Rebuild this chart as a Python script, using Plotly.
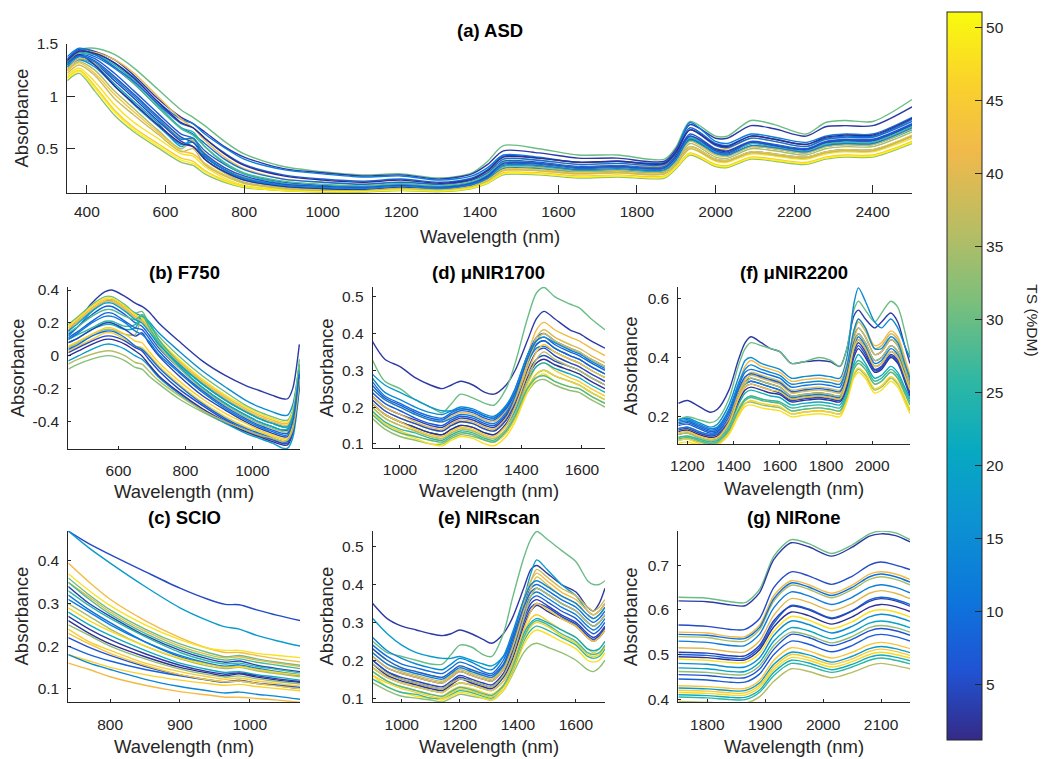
import plotly.graph_objects as go
from plotly.colors import sample_colorscale

# ======================= DATA =======================
TS_RANGE = [1.2, 51.1]
TS_TICKS = [5, 10, 15, 20, 25, 30, 35, 40, 45, 50]

# ---- (a) ASD ----
ASD_WL = [350, 380, 420, 470, 520, 580, 640, 670, 700, 750, 800, 900, 1000, 1100, 1200, 1300, 1380,
          1420, 1460, 1550, 1650, 1750, 1870, 1900, 1935, 2000, 2030, 2090, 2150, 2230, 2280, 2330, 2400, 2500]
ASD_TS = [30, 3, 12, 42, 7, 20, 35, 4, 45, 33, 48, 10, 25, 15, 40, 2, 28, 9, 44, 6, 38, 13, 50, 1.5]
ASD_ABS = [
    [1.32, 1.44, 1.46, 1.40, 1.27, 1.07, 0.87, 0.80, 0.72, 0.57, 0.45, 0.33, 0.28, 0.25, 0.26, 0.22, 0.27, 0.38, 0.53, 0.50, 0.44, 0.44, 0.40, 0.52, 0.76, 0.62, 0.62, 0.77, 0.73, 0.64, 0.75, 0.77, 0.76, 0.97],
    [1.35, 1.45, 1.43, 1.35, 1.20, 0.98, 0.80, 0.74, 0.66, 0.52, 0.42, 0.31, 0.27, 0.24, 0.25, 0.21, 0.26, 0.35, 0.48, 0.46, 0.41, 0.41, 0.38, 0.50, 0.73, 0.60, 0.60, 0.72, 0.69, 0.62, 0.71, 0.72, 0.72, 0.90],
    [1.38, 1.46, 1.42, 1.32, 1.18, 0.95, 0.78, 0.74, 0.64, 0.51, 0.40, 0.30, 0.26, 0.23, 0.24, 0.20, 0.24, 0.32, 0.44, 0.42, 0.37, 0.38, 0.36, 0.48, 0.75, 0.57, 0.55, 0.64, 0.61, 0.56, 0.62, 0.64, 0.64, 0.80],
    [1.30, 1.42, 1.42, 1.35, 1.22, 1.00, 0.78, 0.70, 0.58, 0.42, 0.31, 0.21, 0.18, 0.16, 0.18, 0.16, 0.20, 0.28, 0.40, 0.39, 0.35, 0.36, 0.34, 0.45, 0.62, 0.50, 0.50, 0.60, 0.57, 0.52, 0.59, 0.61, 0.61, 0.78],
    [1.32, 1.40, 1.36, 1.22, 1.05, 0.84, 0.64, 0.60, 0.48, 0.35, 0.26, 0.18, 0.15, 0.14, 0.16, 0.14, 0.18, 0.25, 0.38, 0.37, 0.33, 0.34, 0.33, 0.44, 0.64, 0.50, 0.48, 0.57, 0.54, 0.50, 0.57, 0.59, 0.59, 0.74],
    [1.28, 1.36, 1.30, 1.12, 0.95, 0.75, 0.52, 0.60, 0.44, 0.30, 0.21, 0.15, 0.13, 0.12, 0.14, 0.12, 0.16, 0.22, 0.33, 0.33, 0.29, 0.30, 0.29, 0.39, 0.58, 0.45, 0.43, 0.52, 0.50, 0.46, 0.52, 0.54, 0.54, 0.68],
    [1.25, 1.33, 1.25, 1.05, 0.88, 0.68, 0.50, 0.58, 0.40, 0.27, 0.18, 0.13, 0.11, 0.11, 0.13, 0.11, 0.15, 0.21, 0.32, 0.32, 0.28, 0.29, 0.28, 0.37, 0.55, 0.42, 0.41, 0.50, 0.48, 0.44, 0.50, 0.52, 0.52, 0.66],
    [1.30, 1.38, 1.32, 1.15, 0.98, 0.77, 0.57, 0.52, 0.42, 0.30, 0.22, 0.15, 0.13, 0.12, 0.14, 0.12, 0.16, 0.23, 0.35, 0.35, 0.31, 0.32, 0.31, 0.41, 0.60, 0.47, 0.45, 0.55, 0.52, 0.48, 0.55, 0.57, 0.57, 0.72],
    [1.18, 1.25, 1.10, 0.87, 0.70, 0.55, 0.41, 0.38, 0.29, 0.20, 0.14, 0.10, 0.09, 0.09, 0.11, 0.10, 0.13, 0.18, 0.27, 0.27, 0.24, 0.25, 0.24, 0.33, 0.46, 0.35, 0.34, 0.42, 0.40, 0.37, 0.42, 0.44, 0.44, 0.57],
    [1.15, 1.22, 1.05, 0.82, 0.66, 0.51, 0.37, 0.34, 0.26, 0.18, 0.13, 0.10, 0.085, 0.085, 0.10, 0.09, 0.12, 0.17, 0.25, 0.25, 0.22, 0.23, 0.22, 0.31, 0.44, 0.33, 0.32, 0.40, 0.38, 0.35, 0.40, 0.42, 0.42, 0.55],
    [1.20, 1.27, 1.14, 0.92, 0.75, 0.60, 0.45, 0.43, 0.33, 0.22, 0.15, 0.11, 0.10, 0.10, 0.12, 0.10, 0.14, 0.20, 0.29, 0.29, 0.26, 0.27, 0.26, 0.35, 0.50, 0.38, 0.37, 0.45, 0.43, 0.40, 0.45, 0.47, 0.47, 0.60],
    [1.34, 1.42, 1.38, 1.27, 1.12, 0.90, 0.70, 0.64, 0.55, 0.40, 0.30, 0.21, 0.18, 0.16, 0.18, 0.16, 0.20, 0.27, 0.40, 0.39, 0.35, 0.36, 0.35, 0.46, 0.68, 0.53, 0.51, 0.60, 0.57, 0.52, 0.59, 0.61, 0.61, 0.76],
    [1.30, 1.40, 1.40, 1.30, 1.15, 0.92, 0.70, 0.66, 0.52, 0.36, 0.26, 0.17, 0.14, 0.13, 0.15, 0.13, 0.17, 0.24, 0.36, 0.36, 0.32, 0.33, 0.32, 0.42, 0.60, 0.47, 0.46, 0.55, 0.53, 0.49, 0.55, 0.57, 0.57, 0.72],
    [1.28, 1.35, 1.28, 1.10, 0.92, 0.72, 0.54, 0.56, 0.40, 0.28, 0.20, 0.14, 0.12, 0.11, 0.13, 0.11, 0.15, 0.21, 0.31, 0.31, 0.27, 0.28, 0.27, 0.36, 0.52, 0.40, 0.39, 0.47, 0.45, 0.42, 0.47, 0.49, 0.49, 0.62],
    [1.26, 1.36, 1.32, 1.18, 1.02, 0.80, 0.60, 0.58, 0.46, 0.32, 0.23, 0.16, 0.13, 0.12, 0.14, 0.12, 0.16, 0.22, 0.34, 0.34, 0.30, 0.31, 0.30, 0.40, 0.57, 0.44, 0.43, 0.52, 0.50, 0.46, 0.52, 0.54, 0.54, 0.69],
    [1.33, 1.40, 1.30, 1.10, 0.93, 0.73, 0.55, 0.52, 0.40, 0.28, 0.20, 0.14, 0.12, 0.11, 0.13, 0.12, 0.16, 0.23, 0.37, 0.36, 0.32, 0.33, 0.32, 0.43, 0.62, 0.49, 0.47, 0.56, 0.53, 0.49, 0.56, 0.58, 0.58, 0.73],
    [1.33, 1.42, 1.40, 1.28, 1.12, 0.90, 0.69, 0.63, 0.52, 0.37, 0.27, 0.19, 0.16, 0.145, 0.165, 0.145, 0.185, 0.255, 0.37, 0.36, 0.32, 0.33, 0.32, 0.42, 0.61, 0.48, 0.46, 0.55, 0.52, 0.48, 0.54, 0.56, 0.56, 0.71],
    [1.36, 1.44, 1.40, 1.28, 1.14, 0.93, 0.74, 0.70, 0.60, 0.46, 0.35, 0.25, 0.21, 0.19, 0.21, 0.18, 0.22, 0.30, 0.43, 0.41, 0.37, 0.38, 0.37, 0.48, 0.70, 0.55, 0.53, 0.62, 0.59, 0.54, 0.60, 0.62, 0.62, 0.78],
    [1.24, 1.32, 1.22, 1.02, 0.85, 0.66, 0.48, 0.45, 0.36, 0.25, 0.17, 0.12, 0.10, 0.10, 0.12, 0.11, 0.14, 0.20, 0.30, 0.30, 0.27, 0.28, 0.27, 0.36, 0.52, 0.40, 0.39, 0.47, 0.45, 0.42, 0.47, 0.49, 0.49, 0.63],
    [1.31, 1.39, 1.34, 1.19, 1.02, 0.81, 0.61, 0.56, 0.45, 0.32, 0.24, 0.16, 0.14, 0.13, 0.15, 0.13, 0.17, 0.24, 0.36, 0.36, 0.32, 0.33, 0.32, 0.42, 0.62, 0.48, 0.46, 0.56, 0.53, 0.49, 0.56, 0.58, 0.58, 0.73],
    [1.22, 1.30, 1.20, 0.98, 0.82, 0.64, 0.47, 0.50, 0.35, 0.24, 0.17, 0.12, 0.10, 0.10, 0.12, 0.11, 0.14, 0.19, 0.29, 0.29, 0.26, 0.27, 0.26, 0.35, 0.50, 0.39, 0.38, 0.46, 0.44, 0.41, 0.46, 0.48, 0.48, 0.62],
    [1.30, 1.38, 1.33, 1.17, 1.00, 0.79, 0.59, 0.60, 0.43, 0.30, 0.22, 0.15, 0.13, 0.12, 0.14, 0.12, 0.16, 0.22, 0.34, 0.34, 0.30, 0.31, 0.30, 0.40, 0.59, 0.46, 0.44, 0.53, 0.51, 0.47, 0.53, 0.55, 0.55, 0.70],
    [1.17, 1.24, 1.08, 0.85, 0.68, 0.53, 0.39, 0.36, 0.28, 0.19, 0.135, 0.10, 0.09, 0.09, 0.105, 0.095, 0.125, 0.175, 0.26, 0.26, 0.23, 0.24, 0.23, 0.32, 0.45, 0.34, 0.33, 0.41, 0.39, 0.36, 0.41, 0.43, 0.43, 0.56],
    [1.34, 1.43, 1.41, 1.32, 1.17, 0.95, 0.75, 0.70, 0.60, 0.45, 0.34, 0.24, 0.20, 0.18, 0.20, 0.17, 0.21, 0.29, 0.42, 0.41, 0.37, 0.38, 0.36, 0.47, 0.68, 0.54, 0.52, 0.62, 0.59, 0.54, 0.61, 0.63, 0.63, 0.79],
]

# ---- (b) F750 ----
F750_WL = [450, 480, 520, 560, 580, 620, 650, 670, 690, 720, 780, 850, 920, 980, 1020, 1060, 1090, 1105, 1120, 1140]
F750_TS = [3, 15, 30, 42, 7, 35, 22, 4, 45, 32, 18, 10, 48, 2, 26, 40, 12, 28, 46, 5, 36, 20, 8]
F750_ABS = [
    [0.15, 0.22, 0.32, 0.39, 0.40, 0.36, 0.32, 0.30, 0.27, 0.20, 0.09, -0.03, -0.12, -0.18, -0.21, -0.24, -0.26, -0.26, -0.20, 0.07],
    [0.12, 0.18, 0.27, 0.33, 0.34, 0.30, 0.26, 0.24, 0.21, 0.14, 0.03, -0.09, -0.19, -0.27, -0.31, -0.34, -0.36, -0.36, -0.30, -0.05],
    [0.19, 0.24, 0.31, 0.36, 0.36, 0.31, 0.26, 0.27, 0.20, 0.12, 0.00, -0.12, -0.22, -0.30, -0.34, -0.37, -0.39, -0.39, -0.33, -0.02],
    [0.17, 0.22, 0.29, 0.34, 0.34, 0.29, 0.24, 0.22, 0.17, 0.09, -0.03, -0.15, -0.25, -0.32, -0.36, -0.39, -0.41, -0.41, -0.35, -0.08],
    [0.13, 0.18, 0.25, 0.30, 0.30, 0.25, 0.20, 0.18, 0.13, 0.05, -0.07, -0.19, -0.29, -0.36, -0.40, -0.43, -0.45, -0.45, -0.38, -0.10],
    [0.05, 0.08, 0.13, 0.16, 0.16, 0.13, 0.13, 0.23, 0.18, 0.06, -0.07, -0.20, -0.30, -0.37, -0.41, -0.44, -0.46, -0.46, -0.40, -0.12],
    [0.08, 0.11, 0.16, 0.19, 0.19, 0.16, 0.17, 0.24, 0.20, 0.08, -0.06, -0.19, -0.29, -0.36, -0.40, -0.43, -0.45, -0.44, -0.37, -0.08],
    [0.08, 0.11, 0.16, 0.20, 0.20, 0.16, 0.12, 0.14, 0.08, 0.00, -0.12, -0.24, -0.33, -0.40, -0.44, -0.47, -0.49, -0.49, -0.42, -0.15],
    [0.03, 0.06, 0.10, 0.14, 0.14, 0.10, 0.06, 0.05, 0.01, -0.06, -0.17, -0.28, -0.37, -0.43, -0.46, -0.49, -0.51, -0.51, -0.45, -0.15],
    [-0.08, -0.05, -0.02, 0.00, 0.00, -0.03, -0.07, -0.08, -0.12, -0.17, -0.26, -0.34, -0.41, -0.46, -0.49, -0.51, -0.53, -0.52, -0.46, -0.17],
    [-0.03, 0.00, 0.04, 0.07, 0.07, 0.04, 0.00, -0.02, -0.06, -0.13, -0.23, -0.33, -0.41, -0.47, -0.50, -0.53, -0.56, -0.56, -0.50, -0.20],
    [0.04, 0.07, 0.12, 0.15, 0.15, 0.11, 0.06, 0.04, 0.00, -0.07, -0.18, -0.29, -0.38, -0.44, -0.47, -0.50, -0.52, -0.52, -0.45, -0.12],
    [0.18, 0.23, 0.30, 0.35, 0.35, 0.30, 0.25, 0.23, 0.18, 0.10, -0.02, -0.14, -0.24, -0.31, -0.35, -0.38, -0.40, -0.40, -0.34, -0.06],
    [0.00, 0.03, 0.07, 0.10, 0.10, 0.07, 0.03, 0.00, -0.05, -0.12, -0.22, -0.32, -0.40, -0.46, -0.49, -0.52, -0.54, -0.54, -0.47, -0.18],
    [0.10, 0.13, 0.17, 0.21, 0.21, 0.18, 0.19, 0.25, 0.21, 0.10, -0.04, -0.17, -0.27, -0.34, -0.38, -0.41, -0.43, -0.43, -0.36, -0.06],
    [0.16, 0.21, 0.28, 0.33, 0.33, 0.28, 0.23, 0.21, 0.16, 0.08, -0.04, -0.16, -0.26, -0.33, -0.37, -0.40, -0.42, -0.42, -0.36, -0.09],
    [0.10, 0.14, 0.20, 0.24, 0.24, 0.20, 0.15, 0.13, 0.09, 0.01, -0.10, -0.22, -0.32, -0.39, -0.43, -0.46, -0.48, -0.48, -0.41, -0.13],
    [0.14, 0.18, 0.24, 0.28, 0.28, 0.24, 0.22, 0.25, 0.18, 0.08, -0.05, -0.17, -0.27, -0.34, -0.38, -0.41, -0.43, -0.43, -0.37, -0.10],
    [0.06, 0.09, 0.13, 0.17, 0.17, 0.13, 0.09, 0.08, 0.03, -0.04, -0.15, -0.26, -0.35, -0.41, -0.45, -0.48, -0.50, -0.50, -0.43, -0.14],
    [0.02, 0.05, 0.09, 0.12, 0.12, 0.09, 0.05, 0.03, -0.02, -0.09, -0.20, -0.30, -0.39, -0.45, -0.48, -0.51, -0.53, -0.53, -0.46, -0.16],
    [-0.05, -0.02, 0.01, 0.03, 0.03, 0.00, -0.04, -0.05, -0.09, -0.15, -0.24, -0.33, -0.40, -0.45, -0.48, -0.50, -0.52, -0.51, -0.45, -0.16],
    [0.15, 0.20, 0.27, 0.32, 0.32, 0.27, 0.22, 0.20, 0.15, 0.07, -0.05, -0.17, -0.27, -0.34, -0.38, -0.41, -0.43, -0.43, -0.37, -0.09],
    [0.11, 0.15, 0.21, 0.26, 0.26, 0.21, 0.17, 0.16, 0.11, 0.03, -0.09, -0.21, -0.31, -0.38, -0.42, -0.45, -0.47, -0.47, -0.40, -0.11],
]

# ---- (c) SCIO ----
SCIO_WL = [740, 770, 800, 850, 900, 940, 965, 985, 1010, 1040, 1072]
SCIO_TS = [5, 18, 42, 48, 30, 4, 10, 35, 22, 2, 45, 8, 46, 14, 42, 26, 40, 12, 47, 3, 33, 6, 44, 28]
SCIO_ABS = [
    [0.47, 0.44, 0.415, 0.375, 0.336, 0.31, 0.298, 0.297, 0.285, 0.272, 0.26],
    [0.47, 0.43, 0.395, 0.34, 0.29, 0.26, 0.245, 0.24, 0.225, 0.212, 0.20],
    [0.395, 0.35, 0.31, 0.26, 0.22, 0.195, 0.185, 0.185, 0.178, 0.17, 0.163],
    [0.37, 0.33, 0.295, 0.25, 0.215, 0.195, 0.19, 0.19, 0.183, 0.178, 0.173],
    [0.36, 0.32, 0.285, 0.24, 0.205, 0.185, 0.175, 0.178, 0.17, 0.162, 0.155],
    [0.34, 0.30, 0.27, 0.225, 0.19, 0.17, 0.162, 0.165, 0.155, 0.147, 0.14],
    [0.32, 0.285, 0.255, 0.21, 0.175, 0.158, 0.15, 0.153, 0.145, 0.138, 0.13],
    [0.30, 0.27, 0.24, 0.20, 0.17, 0.153, 0.147, 0.15, 0.142, 0.135, 0.128],
    [0.28, 0.25, 0.225, 0.19, 0.16, 0.145, 0.138, 0.14, 0.133, 0.127, 0.12],
    [0.26, 0.23, 0.205, 0.175, 0.15, 0.137, 0.13, 0.135, 0.127, 0.12, 0.115],
    [0.24, 0.21, 0.19, 0.16, 0.14, 0.128, 0.122, 0.125, 0.118, 0.112, 0.106],
    [0.20, 0.18, 0.165, 0.145, 0.13, 0.12, 0.115, 0.118, 0.112, 0.107, 0.10],
    [0.18, 0.165, 0.15, 0.133, 0.12, 0.112, 0.108, 0.11, 0.105, 0.10, 0.095],
    [0.18, 0.16, 0.145, 0.122, 0.105, 0.095, 0.09, 0.092, 0.087, 0.082, 0.075],
    [0.16, 0.145, 0.128, 0.108, 0.093, 0.085, 0.08, 0.08, 0.077, 0.073, 0.068],
    [0.33, 0.295, 0.265, 0.222, 0.185, 0.165, 0.158, 0.16, 0.152, 0.145, 0.137],
    [0.35, 0.315, 0.28, 0.235, 0.20, 0.18, 0.172, 0.175, 0.167, 0.16, 0.152],
    [0.31, 0.28, 0.25, 0.21, 0.178, 0.16, 0.153, 0.156, 0.148, 0.14, 0.133],
    [0.29, 0.26, 0.235, 0.20, 0.172, 0.157, 0.15, 0.152, 0.145, 0.138, 0.132],
    [0.27, 0.24, 0.215, 0.182, 0.155, 0.14, 0.134, 0.137, 0.13, 0.123, 0.117],
    [0.25, 0.225, 0.20, 0.17, 0.146, 0.133, 0.127, 0.13, 0.123, 0.117, 0.111],
    [0.22, 0.197, 0.178, 0.152, 0.132, 0.121, 0.116, 0.12, 0.113, 0.108, 0.103],
    [0.23, 0.205, 0.183, 0.155, 0.133, 0.121, 0.116, 0.118, 0.112, 0.106, 0.10],
    [0.35, 0.31, 0.275, 0.23, 0.195, 0.175, 0.167, 0.17, 0.162, 0.155, 0.147],
]

# ---- (d) uNIR1700 ----
U17_WL = [908, 950, 1000, 1050, 1100, 1140, 1170, 1200, 1240, 1280, 1310, 1350, 1380, 1420, 1450, 1475, 1510, 1560, 1590, 1630, 1676]
U17_TS = [3, 30, 18, 42, 7, 45, 33, 4, 10, 48, 22, 38, 12, 2, 26, 40, 8, 46, 5, 36, 14, 28, 44]
U17_ABS = [
    [0.38, 0.33, 0.31, 0.28, 0.26, 0.25, 0.26, 0.27, 0.26, 0.24, 0.235, 0.26, 0.30, 0.38, 0.44, 0.46, 0.44, 0.41, 0.40, 0.38, 0.36],
    [0.33, 0.27, 0.25, 0.22, 0.20, 0.185, 0.21, 0.235, 0.225, 0.21, 0.205, 0.25, 0.32, 0.44, 0.51, 0.525, 0.50, 0.48, 0.47, 0.44, 0.41],
    [0.29, 0.26, 0.24, 0.22, 0.20, 0.19, 0.19, 0.195, 0.19, 0.175, 0.17, 0.20, 0.24, 0.32, 0.37, 0.38, 0.36, 0.34, 0.33, 0.31, 0.29],
    [0.25, 0.22, 0.20, 0.18, 0.165, 0.16, 0.175, 0.185, 0.18, 0.165, 0.16, 0.19, 0.24, 0.34, 0.41, 0.43, 0.41, 0.39, 0.38, 0.36, 0.34],
    [0.24, 0.21, 0.19, 0.17, 0.155, 0.15, 0.165, 0.175, 0.17, 0.155, 0.15, 0.18, 0.23, 0.32, 0.37, 0.38, 0.36, 0.34, 0.33, 0.31, 0.29],
    [0.20, 0.17, 0.15, 0.135, 0.12, 0.115, 0.13, 0.14, 0.135, 0.12, 0.115, 0.14, 0.18, 0.26, 0.31, 0.32, 0.30, 0.28, 0.27, 0.25, 0.23],
    [0.17, 0.14, 0.12, 0.11, 0.10, 0.10, 0.115, 0.125, 0.12, 0.11, 0.105, 0.13, 0.17, 0.24, 0.27, 0.275, 0.26, 0.245, 0.24, 0.22, 0.20],
    [0.23, 0.20, 0.18, 0.165, 0.15, 0.145, 0.16, 0.17, 0.165, 0.15, 0.145, 0.175, 0.22, 0.30, 0.35, 0.36, 0.34, 0.32, 0.31, 0.29, 0.27],
    [0.27, 0.23, 0.21, 0.19, 0.175, 0.17, 0.185, 0.195, 0.19, 0.175, 0.17, 0.20, 0.25, 0.34, 0.39, 0.40, 0.38, 0.36, 0.35, 0.33, 0.31],
    [0.19, 0.15, 0.13, 0.115, 0.10, 0.095, 0.11, 0.12, 0.115, 0.10, 0.095, 0.12, 0.16, 0.24, 0.28, 0.29, 0.27, 0.255, 0.25, 0.23, 0.21],
    [0.21, 0.18, 0.16, 0.145, 0.13, 0.125, 0.14, 0.15, 0.145, 0.13, 0.125, 0.15, 0.19, 0.27, 0.31, 0.32, 0.305, 0.29, 0.28, 0.26, 0.24],
    [0.22, 0.19, 0.17, 0.155, 0.14, 0.135, 0.15, 0.16, 0.155, 0.14, 0.135, 0.165, 0.21, 0.31, 0.38, 0.40, 0.38, 0.36, 0.35, 0.33, 0.31],
    [0.25, 0.22, 0.20, 0.18, 0.165, 0.16, 0.17, 0.18, 0.175, 0.16, 0.155, 0.185, 0.23, 0.32, 0.36, 0.365, 0.35, 0.33, 0.32, 0.30, 0.28],
    [0.21, 0.18, 0.16, 0.145, 0.13, 0.125, 0.14, 0.15, 0.145, 0.13, 0.125, 0.155, 0.20, 0.28, 0.32, 0.33, 0.315, 0.30, 0.29, 0.27, 0.25],
    [0.19, 0.16, 0.14, 0.13, 0.115, 0.11, 0.125, 0.135, 0.13, 0.115, 0.11, 0.14, 0.18, 0.25, 0.29, 0.30, 0.285, 0.27, 0.26, 0.24, 0.22],
    [0.23, 0.20, 0.18, 0.16, 0.145, 0.14, 0.155, 0.165, 0.16, 0.145, 0.14, 0.17, 0.22, 0.32, 0.39, 0.41, 0.39, 0.37, 0.36, 0.34, 0.32],
    [0.26, 0.225, 0.205, 0.185, 0.17, 0.165, 0.18, 0.19, 0.185, 0.17, 0.165, 0.195, 0.24, 0.33, 0.38, 0.39, 0.37, 0.35, 0.34, 0.32, 0.30],
    [0.18, 0.155, 0.135, 0.12, 0.11, 0.105, 0.12, 0.13, 0.125, 0.11, 0.105, 0.13, 0.17, 0.25, 0.29, 0.30, 0.285, 0.27, 0.26, 0.24, 0.22],
    [0.22, 0.19, 0.17, 0.155, 0.14, 0.135, 0.15, 0.16, 0.155, 0.14, 0.135, 0.165, 0.21, 0.29, 0.33, 0.34, 0.325, 0.31, 0.30, 0.28, 0.26],
    [0.20, 0.17, 0.15, 0.135, 0.12, 0.115, 0.13, 0.14, 0.135, 0.12, 0.115, 0.14, 0.18, 0.27, 0.33, 0.35, 0.33, 0.31, 0.30, 0.28, 0.26],
    [0.28, 0.24, 0.22, 0.20, 0.185, 0.18, 0.19, 0.20, 0.195, 0.18, 0.175, 0.205, 0.25, 0.34, 0.38, 0.39, 0.375, 0.355, 0.345, 0.325, 0.305],
    [0.18, 0.15, 0.13, 0.12, 0.11, 0.105, 0.12, 0.13, 0.125, 0.11, 0.105, 0.135, 0.175, 0.25, 0.28, 0.285, 0.27, 0.255, 0.25, 0.23, 0.21],
    [0.21, 0.18, 0.16, 0.14, 0.125, 0.12, 0.135, 0.145, 0.14, 0.125, 0.12, 0.15, 0.20, 0.29, 0.35, 0.37, 0.35, 0.33, 0.32, 0.30, 0.28],
]

# ---- (e) NIRscan ----
NSC_WL = [900, 950, 1000, 1050, 1100, 1140, 1170, 1200, 1240, 1280, 1310, 1350, 1380, 1420, 1445, 1465, 1500, 1550, 1600, 1640, 1660, 1680, 1700]
NSC_TS = [3, 30, 18, 42, 7, 45, 33, 4, 10, 48, 22, 38, 12, 2, 26, 40, 8, 46, 5, 36, 14, 28, 44]
NSC_ABS = [
    [0.35, 0.31, 0.29, 0.28, 0.27, 0.265, 0.27, 0.28, 0.27, 0.255, 0.245, 0.27, 0.31, 0.39, 0.44, 0.45, 0.43, 0.40, 0.38, 0.34, 0.33, 0.35, 0.39],
    [0.25, 0.22, 0.21, 0.20, 0.19, 0.19, 0.215, 0.24, 0.235, 0.215, 0.21, 0.27, 0.36, 0.47, 0.52, 0.54, 0.52, 0.49, 0.46, 0.41, 0.40, 0.40, 0.41],
    [0.31, 0.27, 0.24, 0.22, 0.21, 0.205, 0.205, 0.21, 0.20, 0.19, 0.185, 0.21, 0.26, 0.36, 0.43, 0.465, 0.44, 0.40, 0.37, 0.33, 0.32, 0.33, 0.35],
    [0.23, 0.20, 0.18, 0.17, 0.16, 0.155, 0.17, 0.185, 0.175, 0.16, 0.155, 0.19, 0.25, 0.36, 0.41, 0.43, 0.41, 0.38, 0.36, 0.33, 0.32, 0.33, 0.35],
    [0.21, 0.18, 0.165, 0.155, 0.145, 0.14, 0.155, 0.17, 0.16, 0.15, 0.145, 0.175, 0.23, 0.32, 0.36, 0.37, 0.355, 0.33, 0.31, 0.28, 0.27, 0.28, 0.30],
    [0.17, 0.145, 0.13, 0.12, 0.11, 0.105, 0.12, 0.13, 0.125, 0.115, 0.11, 0.135, 0.18, 0.27, 0.31, 0.32, 0.305, 0.28, 0.26, 0.23, 0.22, 0.23, 0.25],
    [0.14, 0.12, 0.105, 0.10, 0.095, 0.09, 0.10, 0.11, 0.105, 0.10, 0.095, 0.12, 0.16, 0.22, 0.24, 0.245, 0.235, 0.22, 0.20, 0.175, 0.17, 0.18, 0.20],
    [0.20, 0.17, 0.155, 0.145, 0.135, 0.13, 0.145, 0.16, 0.15, 0.14, 0.135, 0.165, 0.22, 0.31, 0.35, 0.36, 0.345, 0.32, 0.30, 0.27, 0.26, 0.27, 0.29],
    [0.24, 0.21, 0.19, 0.18, 0.17, 0.165, 0.18, 0.195, 0.185, 0.17, 0.165, 0.20, 0.26, 0.35, 0.39, 0.40, 0.385, 0.36, 0.34, 0.31, 0.30, 0.31, 0.33],
    [0.16, 0.13, 0.115, 0.105, 0.10, 0.095, 0.105, 0.115, 0.11, 0.10, 0.095, 0.12, 0.165, 0.24, 0.27, 0.28, 0.27, 0.25, 0.23, 0.20, 0.195, 0.20, 0.22],
    [0.18, 0.155, 0.14, 0.13, 0.12, 0.115, 0.13, 0.14, 0.135, 0.125, 0.12, 0.145, 0.19, 0.27, 0.30, 0.31, 0.30, 0.28, 0.26, 0.23, 0.225, 0.23, 0.25],
    [0.22, 0.19, 0.17, 0.16, 0.15, 0.145, 0.16, 0.175, 0.165, 0.155, 0.15, 0.18, 0.24, 0.35, 0.41, 0.44, 0.42, 0.39, 0.37, 0.34, 0.33, 0.34, 0.36],
    [0.22, 0.19, 0.175, 0.165, 0.155, 0.15, 0.165, 0.18, 0.17, 0.16, 0.155, 0.185, 0.24, 0.33, 0.37, 0.38, 0.365, 0.34, 0.32, 0.29, 0.28, 0.29, 0.31],
    [0.19, 0.16, 0.145, 0.135, 0.125, 0.12, 0.135, 0.15, 0.14, 0.13, 0.125, 0.155, 0.20, 0.29, 0.33, 0.345, 0.33, 0.31, 0.29, 0.26, 0.25, 0.26, 0.28],
    [0.15, 0.13, 0.115, 0.11, 0.10, 0.10, 0.11, 0.12, 0.115, 0.105, 0.10, 0.13, 0.17, 0.25, 0.28, 0.29, 0.28, 0.26, 0.24, 0.21, 0.205, 0.21, 0.23],
    [0.21, 0.18, 0.165, 0.155, 0.145, 0.14, 0.155, 0.17, 0.16, 0.15, 0.145, 0.175, 0.23, 0.33, 0.39, 0.42, 0.40, 0.37, 0.35, 0.32, 0.31, 0.32, 0.34],
    [0.23, 0.20, 0.18, 0.17, 0.16, 0.155, 0.17, 0.185, 0.175, 0.165, 0.16, 0.19, 0.25, 0.34, 0.38, 0.39, 0.375, 0.35, 0.33, 0.30, 0.29, 0.30, 0.32],
    [0.16, 0.14, 0.125, 0.115, 0.105, 0.10, 0.113, 0.123, 0.118, 0.108, 0.103, 0.128, 0.172, 0.255, 0.29, 0.30, 0.29, 0.265, 0.245, 0.215, 0.21, 0.215, 0.235],
    [0.20, 0.17, 0.15, 0.14, 0.13, 0.125, 0.14, 0.155, 0.145, 0.135, 0.13, 0.16, 0.21, 0.30, 0.34, 0.35, 0.34, 0.315, 0.295, 0.265, 0.255, 0.265, 0.285],
    [0.19, 0.165, 0.15, 0.14, 0.13, 0.125, 0.14, 0.15, 0.145, 0.135, 0.13, 0.16, 0.21, 0.31, 0.37, 0.39, 0.375, 0.35, 0.33, 0.30, 0.29, 0.30, 0.32],
    [0.26, 0.225, 0.205, 0.19, 0.18, 0.175, 0.19, 0.205, 0.195, 0.18, 0.175, 0.21, 0.27, 0.36, 0.40, 0.41, 0.395, 0.37, 0.35, 0.32, 0.31, 0.32, 0.34],
    [0.17, 0.145, 0.13, 0.12, 0.11, 0.105, 0.117, 0.128, 0.122, 0.112, 0.107, 0.133, 0.178, 0.26, 0.295, 0.305, 0.295, 0.27, 0.25, 0.22, 0.215, 0.22, 0.24],
    [0.18, 0.155, 0.14, 0.13, 0.12, 0.115, 0.13, 0.14, 0.135, 0.125, 0.12, 0.145, 0.19, 0.28, 0.33, 0.35, 0.335, 0.31, 0.29, 0.26, 0.25, 0.26, 0.28],
]

# ---- (f) uNIR2200 ----
U22_WL = [1161, 1200, 1250, 1300, 1330, 1380, 1420, 1450, 1475, 1520, 1560, 1600, 1650, 1700, 1770, 1820, 1860, 1890, 1920, 1940, 1970, 2010, 2040, 2080, 2110, 2140, 2163]
U22_TS = [3, 30, 15, 42, 7, 45, 33, 4, 10, 48, 22, 38, 12, 2, 26, 40, 8, 46, 5, 36, 14, 28, 44]
U22_ABS = [
    [0.245, 0.255, 0.235, 0.215, 0.225, 0.29, 0.39, 0.45, 0.47, 0.45, 0.43, 0.42, 0.38, 0.385, 0.39, 0.385, 0.37, 0.43, 0.54, 0.56, 0.53, 0.50, 0.52, 0.55, 0.52, 0.44, 0.38],
    [0.19, 0.20, 0.19, 0.18, 0.19, 0.26, 0.37, 0.43, 0.45, 0.44, 0.43, 0.42, 0.38, 0.385, 0.40, 0.39, 0.37, 0.43, 0.56, 0.59, 0.56, 0.52, 0.55, 0.59, 0.57, 0.49, 0.41],
    [0.19, 0.195, 0.18, 0.165, 0.175, 0.24, 0.33, 0.39, 0.40, 0.38, 0.37, 0.36, 0.33, 0.335, 0.34, 0.335, 0.33, 0.40, 0.58, 0.635, 0.59, 0.52, 0.50, 0.53, 0.50, 0.44, 0.40],
    [0.18, 0.185, 0.17, 0.155, 0.165, 0.22, 0.31, 0.37, 0.39, 0.37, 0.36, 0.35, 0.32, 0.325, 0.33, 0.325, 0.32, 0.38, 0.49, 0.53, 0.50, 0.44, 0.45, 0.49, 0.47, 0.40, 0.34],
    [0.17, 0.175, 0.16, 0.145, 0.15, 0.20, 0.28, 0.32, 0.33, 0.32, 0.31, 0.30, 0.27, 0.275, 0.28, 0.275, 0.27, 0.33, 0.43, 0.46, 0.43, 0.37, 0.38, 0.42, 0.40, 0.34, 0.29],
    [0.13, 0.135, 0.12, 0.11, 0.115, 0.16, 0.23, 0.26, 0.27, 0.26, 0.25, 0.245, 0.22, 0.225, 0.23, 0.225, 0.22, 0.27, 0.36, 0.38, 0.36, 0.31, 0.32, 0.35, 0.33, 0.28, 0.24],
    [0.12, 0.125, 0.115, 0.105, 0.11, 0.15, 0.21, 0.245, 0.25, 0.24, 0.235, 0.23, 0.21, 0.215, 0.22, 0.215, 0.21, 0.26, 0.34, 0.36, 0.34, 0.29, 0.30, 0.33, 0.31, 0.26, 0.22],
    [0.16, 0.165, 0.15, 0.14, 0.145, 0.19, 0.27, 0.31, 0.32, 0.31, 0.30, 0.29, 0.26, 0.265, 0.27, 0.265, 0.26, 0.32, 0.42, 0.45, 0.42, 0.36, 0.37, 0.41, 0.39, 0.33, 0.28],
    [0.18, 0.185, 0.17, 0.155, 0.16, 0.22, 0.30, 0.35, 0.36, 0.35, 0.34, 0.33, 0.30, 0.305, 0.31, 0.305, 0.30, 0.36, 0.47, 0.50, 0.47, 0.41, 0.42, 0.46, 0.44, 0.37, 0.32],
    [0.11, 0.115, 0.105, 0.10, 0.105, 0.14, 0.20, 0.235, 0.24, 0.23, 0.225, 0.22, 0.20, 0.205, 0.21, 0.205, 0.20, 0.25, 0.33, 0.35, 0.33, 0.28, 0.29, 0.32, 0.30, 0.25, 0.21],
    [0.14, 0.145, 0.13, 0.12, 0.125, 0.17, 0.24, 0.28, 0.29, 0.28, 0.27, 0.265, 0.24, 0.245, 0.25, 0.245, 0.24, 0.29, 0.38, 0.41, 0.38, 0.33, 0.34, 0.37, 0.35, 0.30, 0.26],
    [0.15, 0.155, 0.14, 0.13, 0.135, 0.19, 0.28, 0.33, 0.35, 0.34, 0.33, 0.32, 0.29, 0.295, 0.30, 0.295, 0.29, 0.36, 0.48, 0.52, 0.49, 0.43, 0.44, 0.48, 0.46, 0.39, 0.33],
    [0.16, 0.165, 0.15, 0.14, 0.145, 0.19, 0.27, 0.31, 0.32, 0.31, 0.30, 0.29, 0.265, 0.27, 0.275, 0.27, 0.265, 0.32, 0.43, 0.47, 0.44, 0.38, 0.39, 0.43, 0.41, 0.35, 0.30],
    [0.15, 0.155, 0.14, 0.13, 0.135, 0.18, 0.25, 0.29, 0.30, 0.29, 0.28, 0.275, 0.25, 0.255, 0.26, 0.255, 0.25, 0.30, 0.40, 0.43, 0.40, 0.35, 0.36, 0.40, 0.38, 0.32, 0.27],
    [0.13, 0.135, 0.125, 0.115, 0.12, 0.16, 0.22, 0.26, 0.27, 0.26, 0.255, 0.25, 0.23, 0.235, 0.24, 0.235, 0.23, 0.28, 0.37, 0.39, 0.37, 0.32, 0.33, 0.36, 0.34, 0.29, 0.25],
    [0.155, 0.16, 0.145, 0.135, 0.14, 0.19, 0.27, 0.32, 0.34, 0.33, 0.32, 0.31, 0.28, 0.285, 0.29, 0.285, 0.28, 0.35, 0.46, 0.50, 0.47, 0.41, 0.42, 0.46, 0.44, 0.37, 0.31],
    [0.175, 0.18, 0.165, 0.15, 0.155, 0.21, 0.29, 0.335, 0.345, 0.335, 0.325, 0.315, 0.285, 0.29, 0.295, 0.29, 0.285, 0.345, 0.45, 0.48, 0.45, 0.39, 0.40, 0.44, 0.42, 0.355, 0.305],
    [0.12, 0.125, 0.11, 0.10, 0.105, 0.145, 0.21, 0.245, 0.255, 0.245, 0.24, 0.235, 0.21, 0.215, 0.22, 0.215, 0.21, 0.26, 0.345, 0.365, 0.345, 0.295, 0.305, 0.335, 0.315, 0.265, 0.225],
    [0.155, 0.16, 0.145, 0.135, 0.14, 0.185, 0.26, 0.30, 0.31, 0.30, 0.29, 0.28, 0.255, 0.26, 0.265, 0.26, 0.255, 0.31, 0.41, 0.44, 0.41, 0.355, 0.365, 0.405, 0.385, 0.325, 0.275],
    [0.14, 0.145, 0.13, 0.12, 0.125, 0.175, 0.26, 0.31, 0.33, 0.32, 0.31, 0.30, 0.27, 0.275, 0.28, 0.275, 0.27, 0.33, 0.44, 0.48, 0.45, 0.39, 0.40, 0.44, 0.42, 0.36, 0.30],
    [0.185, 0.19, 0.175, 0.16, 0.165, 0.225, 0.31, 0.36, 0.375, 0.36, 0.35, 0.34, 0.31, 0.315, 0.32, 0.315, 0.31, 0.37, 0.49, 0.53, 0.50, 0.43, 0.43, 0.47, 0.45, 0.38, 0.33],
    [0.125, 0.13, 0.12, 0.11, 0.115, 0.155, 0.22, 0.255, 0.265, 0.255, 0.25, 0.245, 0.22, 0.225, 0.23, 0.225, 0.22, 0.27, 0.36, 0.38, 0.36, 0.31, 0.32, 0.35, 0.33, 0.28, 0.24],
    [0.145, 0.15, 0.135, 0.125, 0.13, 0.18, 0.26, 0.30, 0.31, 0.30, 0.29, 0.285, 0.26, 0.265, 0.27, 0.265, 0.26, 0.32, 0.43, 0.46, 0.43, 0.37, 0.38, 0.42, 0.40, 0.34, 0.29],
]

# ---- (g) NIRone ----
NIR1_WL = [1750, 1800, 1840, 1865, 1890, 1915, 1945, 1975, 2015, 2050, 2080, 2100, 2125, 2150]
NIR1_TS = [30, 3, 5, 42, 35, 12, 8, 2, 48, 20, 6, 44, 18, 47, 26, 36, 10, 40, 4, 15, 33, 7, 45, 22]
NIR1_ABS = [
    [0.628, 0.626, 0.618, 0.616, 0.645, 0.72, 0.757, 0.748, 0.726, 0.745, 0.77, 0.776, 0.772, 0.757],
    [0.62, 0.618, 0.611, 0.609, 0.638, 0.713, 0.75, 0.741, 0.72, 0.74, 0.765, 0.77, 0.766, 0.752],
    [0.566, 0.563, 0.556, 0.556, 0.58, 0.65, 0.685, 0.676, 0.657, 0.675, 0.70, 0.707, 0.70, 0.69],
    [0.55, 0.548, 0.54, 0.54, 0.565, 0.632, 0.665, 0.656, 0.637, 0.655, 0.68, 0.685, 0.68, 0.668],
    [0.54, 0.538, 0.53, 0.53, 0.555, 0.62, 0.655, 0.646, 0.627, 0.645, 0.668, 0.674, 0.668, 0.656],
    [0.53, 0.527, 0.52, 0.52, 0.545, 0.605, 0.64, 0.631, 0.612, 0.628, 0.65, 0.656, 0.65, 0.638],
    [0.50, 0.498, 0.492, 0.492, 0.515, 0.57, 0.61, 0.602, 0.582, 0.598, 0.622, 0.628, 0.623, 0.612],
    [0.495, 0.493, 0.488, 0.488, 0.51, 0.562, 0.595, 0.587, 0.568, 0.584, 0.606, 0.612, 0.607, 0.596],
    [0.49, 0.487, 0.482, 0.482, 0.502, 0.552, 0.585, 0.577, 0.558, 0.573, 0.595, 0.60, 0.595, 0.584],
    [0.47, 0.468, 0.462, 0.462, 0.482, 0.53, 0.56, 0.553, 0.535, 0.55, 0.57, 0.575, 0.57, 0.56],
    [0.455, 0.453, 0.448, 0.448, 0.467, 0.512, 0.545, 0.538, 0.52, 0.534, 0.553, 0.558, 0.553, 0.543],
    [0.43, 0.428, 0.424, 0.424, 0.442, 0.487, 0.515, 0.508, 0.492, 0.505, 0.522, 0.527, 0.522, 0.513],
    [0.425, 0.423, 0.419, 0.419, 0.436, 0.478, 0.505, 0.499, 0.483, 0.496, 0.513, 0.518, 0.513, 0.504],
    [0.415, 0.413, 0.409, 0.409, 0.426, 0.466, 0.493, 0.487, 0.472, 0.484, 0.50, 0.505, 0.50, 0.492],
    [0.405, 0.403, 0.399, 0.399, 0.415, 0.453, 0.48, 0.474, 0.46, 0.472, 0.487, 0.492, 0.487, 0.479],
    [0.395, 0.393, 0.39, 0.39, 0.405, 0.44, 0.468, 0.462, 0.448, 0.46, 0.475, 0.48, 0.475, 0.468],
    [0.545, 0.543, 0.536, 0.536, 0.56, 0.625, 0.66, 0.651, 0.632, 0.65, 0.674, 0.68, 0.674, 0.662],
    [0.515, 0.513, 0.506, 0.506, 0.53, 0.588, 0.625, 0.617, 0.598, 0.614, 0.637, 0.643, 0.637, 0.625],
    [0.505, 0.503, 0.497, 0.497, 0.52, 0.576, 0.608, 0.60, 0.58, 0.597, 0.619, 0.625, 0.62, 0.608],
    [0.48, 0.478, 0.472, 0.472, 0.492, 0.543, 0.575, 0.567, 0.548, 0.563, 0.584, 0.59, 0.585, 0.574],
    [0.462, 0.46, 0.455, 0.455, 0.474, 0.52, 0.55, 0.543, 0.526, 0.54, 0.56, 0.565, 0.56, 0.55],
    [0.445, 0.443, 0.438, 0.438, 0.456, 0.50, 0.53, 0.523, 0.506, 0.52, 0.54, 0.545, 0.54, 0.53],
    [0.42, 0.418, 0.414, 0.414, 0.431, 0.472, 0.50, 0.493, 0.478, 0.49, 0.507, 0.512, 0.507, 0.498],
    [0.41, 0.408, 0.404, 0.404, 0.42, 0.46, 0.487, 0.481, 0.466, 0.478, 0.494, 0.499, 0.494, 0.486],
]

# ---- axis ticks ----
A_XTICKS = [400, 600, 800, 1000, 1200, 1400, 1600, 1800, 2000, 2200, 2400]
A_YTICKS = [0.5, 1, 1.5]
A_YLABELS = ["0.5", "1", "1.5"]
B_XTICKS = [600, 800, 1000]
B_YTICKS = [-0.4, -0.2, 0, 0.2, 0.4]
B_YLABELS = ["-0.4", "-0.2", "0", "0.2", "0.4"]
C_XTICKS = [800, 900, 1000]
C_YTICKS = [0.1, 0.2, 0.3, 0.4]
C_YLABELS = ["0.1", "0.2", "0.3", "0.4"]
D_XTICKS = [1000, 1200, 1400, 1600]
D_YTICKS = [0.1, 0.2, 0.3, 0.4, 0.5]
D_YLABELS = ["0.1", "0.2", "0.3", "0.4", "0.5"]
E_XTICKS = [1000, 1200, 1400, 1600]
E_YTICKS = [0.1, 0.2, 0.3, 0.4, 0.5]
E_YLABELS = ["0.1", "0.2", "0.3", "0.4", "0.5"]
F_XTICKS = [1200, 1400, 1600, 1800, 2000]
F_YTICKS = [0.2, 0.4, 0.6]
F_YLABELS = ["0.2", "0.4", "0.6"]
G_XTICKS = [1800, 1900, 2000, 2100]
G_YTICKS = [0.4, 0.5, 0.6, 0.7]
G_YLABELS = ["0.4", "0.5", "0.6", "0.7"]

# ======================= STYLE / LAYOUT =======================
W, H = 1045, 759
FONT = "Liberation Sans, Arial, Helvetica, sans-serif"
AX = "#262626"
TICK_SIZE = 15.5
LABEL_SIZE = 18.5

PARULA = [
    [0.0000, "rgb(53,42,135)"],
    [0.0952, "rgb(32,83,212)"],
    [0.1905, "rgb(13,117,220)"],
    [0.3016, "rgb(12,147,210)"],
    [0.3968, "rgb(7,169,194)"],
    [0.4921, "rgb(46,183,164)"],
    [0.6032, "rgb(124,191,123)"],
    [0.6984, "rgb(183,189,100)"],
    [0.8095, "rgb(241,185,74)"],
    [0.9048, "rgb(250,211,42)"],
    [1.0000, "rgb(249,251,14)"],
]


def px_x(x):
    return x / W


def px_y(y):
    return 1 - y / H


def ts_color(ts):
    f = (ts - TS_RANGE[0]) / (TS_RANGE[1] - TS_RANGE[0])
    f = min(max(f, 0.0), 1.0)
    return sample_colorscale(PARULA, [f])[0]


panels = [
    dict(title="(a) ASD", wl=ASD_WL, ts=ASD_TS, spec=ASD_ABS, xr=[350, 2500], yr=[0.077, 1.5],
         xt=A_XTICKS, yt=A_YTICKS, ytl=A_YLABELS, box=(67.3, 912, 44, 193), tl=8, xso=4,
         ty=30.5, xly=237, ylx=21),
    dict(title="(b) F750", wl=F750_WL, ts=F750_TS, spec=F750_ABS, xr=[450, 1142], yr=[-0.565, 0.42],
         xt=B_XTICKS, yt=B_YTICKS, ytl=B_YLABELS, box=(68.3, 300, 286.7, 449), tl=3, xso=7,
         ty=272, xly=491.7, ylx=17.5),
    dict(title="(d) μNIR1700", wl=U17_WL, ts=U17_TS, spec=U17_ABS, xr=[910, 1676], yr=[0.088, 0.527],
         xt=D_XTICKS, yt=D_YTICKS, ytl=D_YLABELS, box=(372.7, 605, 286.7, 448.3), tl=3, xso=7,
         ty=272, xly=490, ylx=326.7),
    dict(title="(f) μNIR2200", wl=U22_WL, ts=U22_TS, spec=U22_ABS, xr=[1161, 2163], yr=[0.107, 0.639],
         xt=F_XTICKS, yt=F_YTICKS, ytl=F_YLABELS, box=(678.3, 910, 286.7, 444.3), tl=3, xso=7,
         ty=272, xly=488.3, ylx=630.7),
    dict(title="(c) SCIO", wl=SCIO_WL, ts=SCIO_TS, spec=SCIO_ABS, xr=[740, 1072], yr=[0.068, 0.471],
         xt=C_XTICKS, yt=C_YTICKS, ytl=C_YLABELS, box=(68.3, 300, 530.7, 702.3), tl=3, xso=8,
         ty=517, xly=746.7, ylx=21),
    dict(title="(e) NIRscan", wl=NSC_WL, ts=NSC_TS, spec=NSC_ABS, xr=[900, 1700], yr=[0.089, 0.542],
         xt=E_XTICKS, yt=E_YTICKS, ytl=E_YLABELS, box=(372.7, 605, 530.7, 702.3), tl=3, xso=8,
         ty=517, xly=746.7, ylx=326),
    dict(title="(g) NIRone", wl=NIR1_WL, ts=NIR1_TS, spec=NIR1_ABS, xr=[1750, 2150], yr=[0.393, 0.777],
         xt=G_XTICKS, yt=G_YTICKS, ytl=G_YLABELS, box=(678.3, 910, 530.7, 702.3), tl=3, xso=8,
         ty=517, xly=746.7, ylx=630.7),
]

fig = go.Figure()
annotations = []
layout_axes = {}

for i, p in enumerate(panels, start=1):
    xa = "x" if i == 1 else f"x{i}"
    ya = "y" if i == 1 else f"y{i}"
    for ts, spec in zip(p["ts"], p["spec"]):
        fig.add_trace(go.Scatter(
            x=p["wl"], y=spec, mode="lines", xaxis=xa, yaxis=ya,
            line=dict(color=ts_color(ts), width=1.4, shape="spline", smoothing=0.8),
            showlegend=False, hoverinfo="skip"))
    x0, x1, y0, y1 = p["box"]
    common = dict(showline=True, linecolor=AX, linewidth=1, ticks="inside", ticklen=p["tl"],
                  tickcolor=AX, tickwidth=1, showgrid=False, zeroline=False, automargin=False,
                  tickfont=dict(family=FONT, size=TICK_SIZE, color=AX), fixedrange=True)
    layout_axes["xaxis" if i == 1 else f"xaxis{i}"] = dict(
        common, domain=[px_x(x0), px_x(x1)], range=p["xr"], anchor=ya,
        tickmode="array", tickvals=p["xt"], ticktext=[str(v) for v in p["xt"]],
        ticklabelstandoff=p["xso"])
    layout_axes["yaxis" if i == 1 else f"yaxis{i}"] = dict(
        common, domain=[px_y(y1), px_y(y0)], range=p["yr"], anchor=xa,
        tickmode="array", tickvals=p["yt"], ticktext=p["ytl"], ticklabelstandoff=5)
    cx = (x0 + x1) / 2
    annotations.append(dict(text=f"<b>{p['title']}</b>", x=px_x(cx), y=px_y(p["ty"]), xref="paper", yref="paper",
                            showarrow=False, xanchor="center", yanchor="middle",
                            font=dict(family=FONT, size=LABEL_SIZE, color="black")))
    annotations.append(dict(text="Wavelength (nm)", x=px_x(cx), y=px_y(p["xly"]), xref="paper", yref="paper",
                            showarrow=False, xanchor="center", yanchor="middle",
                            font=dict(family=FONT, size=LABEL_SIZE, color=AX)))
    annotations.append(dict(text="Absorbance", x=px_x(p["ylx"]), y=px_y((y0 + y1) / 2), xref="paper", yref="paper",
                            showarrow=False, xanchor="center", yanchor="middle", textangle=-90,
                            font=dict(family=FONT, size=LABEL_SIZE, color=AX)))

# colour bar
fig.add_trace(go.Scatter(
    x=[None], y=[None], mode="markers", xaxis="x", yaxis="y", showlegend=False, hoverinfo="skip",
    marker=dict(color=[TS_RANGE[0]], colorscale=PARULA, cmin=TS_RANGE[0], cmax=TS_RANGE[1], showscale=True,
                colorbar=dict(x=px_x(946.7), xanchor="left", y=px_y((11.7 + 740) / 2), yanchor="middle",
                              len=(740 - 11.7) / H, lenmode="fraction", thickness=35, thicknessmode="pixels",
                              xpad=0, ypad=0, outlinewidth=1, outlinecolor=AX, ticks="inside", ticklen=7,
                              tickcolor=AX, tickmode="array", tickvals=TS_TICKS,
                              tickfont=dict(family=FONT, size=TICK_SIZE, color=AX)))))

annotations.append(dict(text="TS (%DM)", x=px_x(1031.7), y=px_y(320), xref="paper", yref="paper",
                        showarrow=False, xanchor="center", yanchor="middle", textangle=90,
                        font=dict(family=FONT, size=15.5, color=AX)))

fig.update_layout(
    width=W, height=H, margin=dict(l=0, r=0, t=0, b=0, autoexpand=False), autosize=False,
    paper_bgcolor="white", plot_bgcolor="white", showlegend=False,
    annotations=annotations, **layout_axes)

fig.write_html("out.html", config={"displayModeBar": False, "responsive": False},
               post_script="document.body.style.margin='0';document.body.style.overflow='hidden';")
